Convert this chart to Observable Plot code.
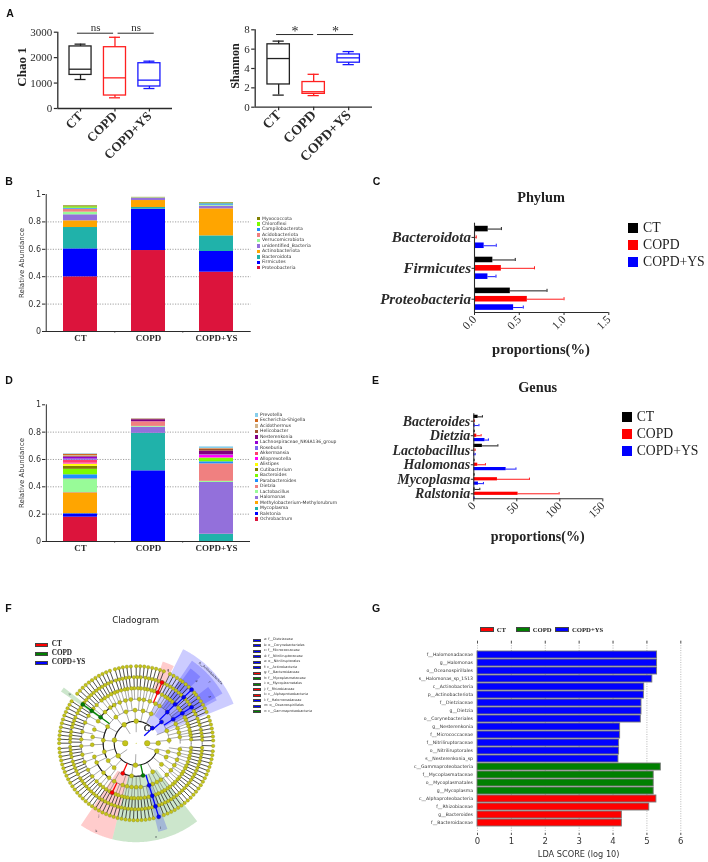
<!doctype html>
<html><head><meta charset="utf-8">
<style>
html,body{margin:0;background:#fff}
#root{position:relative;width:708px;height:862px;overflow:hidden;background:#fff;filter:blur(.3px)}
.t{position:absolute;white-space:nowrap;line-height:1;color:#222}
.s{position:absolute;box-sizing:border-box}
</style>
<script src="https://cdn.jsdelivr.net/npm/d3@7"></script>
<script src="https://cdn.jsdelivr.net/npm/@observablehq/plot@0.6"></script>
</head><body><div id="root"></div>
<script>
const groups = ["CT","COPD","COPD+YS"];
// A: five-number summaries [low, q1, median, q3, high]
const chaoCT = [1140,1320,1545,2440,2530];
const chaoCOPD = [420,510,1205,2410,2800];
const chaoYS = [785,865,1115,1780,1860];
const shanCT = [1.25,2.35,5.03,6.5,6.83];
const shanCOPD = [1.2,1.38,1.6,2.6,3.4];
const shanYS = [4.4,4.6,5.1,5.45,5.75];
const chaoSig = ["ns","ns"];
const shanSig = ["*","*"];
// B
const phyla = ["Proteobacteria","Firmicutes","Bacteroidota","Actinobacteriota","unidentified_Bacteria","Verrucomicrobiota","Acidobacteriota","Campilobacterota","Chloroflexi","Myxococcota"];
const phylaCT = [.399,.204,.156,.049,.044,.019,.022,.007,.010,.007];
const phylaCOPD = [.591,.302,.012,.051,.015,.002,.002,.001,.001,.002];
const phylaYS = [.433,.151,.114,.197,.020,.005,.002,.010,.002,.005];
// D
const genera = ["Ochrobactrum","Ralstonia","Mycoplasma","Methylobacterium-Methylorubrum","Halomonas","Lactobacillus","Dietzia","Parabacteroides","Bacteroides","Cutibacterium","Alistipes","Alloprevotella","Akkermansia","Roseburia","Lachnospiraceae_NK4A136_group","Nesterenkonia","Helicobacter","Acidothermus","Escherichia-Shigella","Prevotella"];
const generaCT = [.178,.024,.002,.152,.002,.096,.004,.03,.04,.022,.017,.006,.022,.008,.012,.004,.006,.004,.009,.004];
const generaCOPD = [0,.517,.273,.001,.045,.006,.034,0,0,0,0,0,0,0,.001,.014,.004,.001,.001,.001];
const generaYS = [0,0,.052,.001,.379,.008,.128,.015,.024,.002,.002,.018,.002,.002,.002,.026,.012,.003,.004,.012];
const phylaColors = ["#DC143C","#0000FF","#20B2AA","#FFA500","#9370DB","#98FB98","#F08080","#1E90FF","#7CFC00","#808000"];
const generaColors = [...phylaColors,"#FFFF00","#FF00FF","#FF3E6E","#7B68EE","#9400D3","#800080","#A0522D","#D2B48C","#D2691E","#87CEEB"];
// C
const phylumNames = ["Proteobacteria","Firmicutes","Bacteroidota"];
const phylumCT = [.40,.205,.153], phylumCTErr = [.81,.455,.30];
const phylumCOPD = [.59,.30,.012], phylumCOPDErr = [1.0,.67,.02];
const phylumYS = [.437,.15,.108], phylumYSErr = [.545,.24,.243];
// E
const genusNames = ["Ralstonia","Mycoplasma","Halomonas","Lactobacillus","Dietzia","Bacteroides"];
const genusCT = [1.5,.2,.2,10,.3,5], genusCTErr = [7,.4,.4,28,.6,10];
const genusCOPD = [51.5,27.5,4.6,1,3.5,.5], genusCOPDErr = [99.2,64.7,13.5,1.6,8.5,.8];
const genusYS = [.2,5.4,37.6,1,13,1.5], genusYSErr = [.4,11.2,49,1.6,17,6];
// G
const ldaNames = ["f__Halomonadaceae","g__Halomonas","o__Oceanospirillales","s__Halomonas_sp_1513","c__Actinobacteria","p__Actinobacteriota","f__Dietziaceae","g__Dietzia","o__Corynebacteriales","g__Nesterenkonia","f__Micrococcaceae","f__Nitriliruptoraceae","o__Nitriliruptorales","s__Nesterenkonia_sp","c__Gammaproteobacteria","f__Mycoplasmataceae","o__Mycoplasmatales","g__Mycoplasma","c__Alphaproteobacteria","f__Rhizobiaceae","g__Bacteroides","f__Bacteroidaceae"];
const ldaScores = [5.30,5.30,5.30,5.16,4.92,4.91,4.84,4.84,4.82,4.21,4.21,4.18,4.18,4.16,5.41,5.20,5.20,5.20,5.28,5.07,4.26,4.26];
const ldaGroups = ["COPD+YS","COPD+YS","COPD+YS","COPD+YS","COPD+YS","COPD+YS","COPD+YS","COPD+YS","COPD+YS","COPD+YS","COPD+YS","COPD+YS","COPD+YS","COPD+YS","COPD","COPD","COPD","COPD","CT","CT","CT","CT"];
// F
const cladeKey = ["a: f__Dietziaceae","b: o__Corynebacteriales","c: f__Micrococcaceae","d: f__Nitriliruptoraceae","e: o__Nitriliruptorales","f: c__Actinobacteria","g: f__Bacteroidaceae","h: f__Mycoplasmataceae","i: o__Mycoplasmatales","j: f__Rhizobiaceae","k: c__Alphaproteobacteria","l: f__Halomonadaceae","m: o__Oceanospirillales","n: c__Gammaproteobacteria"];
const cladeKeyGroups = ["COPD+YS","COPD+YS","COPD+YS","COPD+YS","COPD+YS","COPD+YS","CT","COPD","COPD","CT","CT","COPD+YS","COPD+YS","COPD"];
const ring1 = [0,180];
const ring2 = [0,90,123,172,215,268,339];
const ring3 = [5,22,63,78,92,108,128,150,175,195,212,228,262,300,320,335,345];
const ring4 = [8,14,20,26,58,64,72,80,86,97,104,112,120,126,135,150,162,172,182,198,206,222,232,240,252,258,264,270,276,292,298,304,314,322,330,338,346,352];
const ring5 = [4,8,11,14,18,21,25,28,37,40,49,52,55,58,62,71,74,78,81,85,88,92,95,99,102,106,110,113,117,121,125,129,136,141,150,158,168,176,183,192,200,209,217,224,229,233,237,241,248,251,255,258,261,265,268,272,275,279,283,291,294,298,301,305,308,312,315,319,322,326,329,333,336,340,344,347,351,355];
const ring6 = [3,6,9,12,16,19,22,26,29,36,39,42,47,50,53,56,59,62,65,70,73,76,79,82,86,89,92,96,99,102,105,108,112,115,118,121,124,127,130,133,136,139,142,147,150,153,157,160,163,166,170,173,176,179,183,186,189,192,196,199,202,205,208,212,215,218,221,224,227,230,233,236,239,242,245,248,251,254,257,260,263,266,269,272,275,278,281,284,290,293,296,299,302,305,308,311,314,317,320,323,326,329,332,335,338,341,344,347,350,353,356];
const ring7 = [2,5,8,11,14,17,20,24,27,30,33,36,39,41,47,50,53,55,58,61,64,69,72,75,78,81,84,87,90,94,97,100,103,106,110,113,116,119,122,125,128,131,134,137,140,147,150,153,156,159,162,165,168,171,174,177,180,184,187,190,193,196,199,202,205,208,211,214,217,220,223,226,229,232,235,238,241,244,247,250,253,256,259,262,265,268,271,274,277,280,283,291,294,297,300,303,306,309,312,315,318,321,324,327,330,333,336,339,342,345,348,351,354,358];
const rings = [ring1,ring2,ring3,ring4,ring5,ring6,ring7];
const biomarkerRing = [2,3,4,4,5,5,6,6,7,4,5,6,7,5,6,3,5,3,4,5,6];
const biomarkerAngle = [43,40,45,33,45,33,44,33,44,287,287,287,287,67,67,246,244,282,144,144,144];
const biomarkerGroup = ["COPD+YS","COPD+YS","COPD+YS","COPD+YS","COPD+YS","COPD+YS","COPD+YS","COPD+YS","COPD+YS","COPD+YS","COPD+YS","COPD+YS","COPD+YS","CT","CT","CT","CT","COPD","COPD","COPD","COPD"];
// clade wedges: angle range and ring range
const wedgeA0 = [236,256,284,22,30,46,28,64,142.5];
const wedgeA1 = [256,308,290,63.5,56,54,38,72,145.5];
const wedgeR0 = [3,3,4,2.1,3,4,4,5,4];
const wedgeR1 = [9,9,8.3,9.55,9.05,8.4,8.3,7.8,8.3];
const wedgeGroup = ["CT","COPD","COPD+YS","COPD+YS","COPD+YS","COPD+YS","COPD+YS","CT","COPD"];
const thickRing = [2,3,3,4,4], thickA0 = [45,246,150,118,205], thickA1 = [335,282,205,144,232];
const thinRing = [3,3,4,4,5,5,6];
const thinA0 = [0,60,0,200,0,130,0];
const thinA1 = [30,230,130,350,60,360,360];
const cladeText = ["p__Actinobacteriota","f","a","d","g","n","k","j","l","h"];
const cladeTextRing = [9.33,8.67,7.9,7.9,7.3,8.73,8.73,7.45,8,7.5];
const cladeTextAngle = [43.3,39.8,45.8,32.4,66.5,282,245.6,243,286,143.7];
const cladeTextRotate = [44,44,44,44,0,0,0,0,0,-36];

const root = document.getElementById("root");
const SERIF = "'Liberation Serif',serif", SANS = "'DejaVu Sans',sans-serif", ARIAL = "'Liberation Sans',sans-serif";
const INK = "#2b2b2b";
const groupColors = ["#222222","#FF2020","#1818FF"];
const ldaColors = ["#FF0000","#008000","#0000FF"];

function place(box, inner, options){
  const [x0,y0,x1,y1]=box,[ax0,ay0,ax1,ay1]=inner;
  const el = Plot.plot({width:x1-x0,height:y1-y0,marginLeft:ax0-x0,marginTop:ay0-y0,marginRight:x1-ax1,marginBottom:y1-ay1,
    style:{background:"transparent",overflow:"visible"},...options});
  el.style.position="absolute"; el.style.left=x0+"px"; el.style.top=y0+"px"; el.style.width=(x1-x0)+"px"; el.style.height=(y1-y0)+"px"; el.style.maxWidth="none";
  root.append(el);
}
function label(text,x,y,css={},rot=0,align=-50){
  const d=document.createElement("div"); d.className="t"; d.textContent=text;
  d.style.left=x+"px"; d.style.top=y+"px";
  d.style.transform=`translate(${align}%,-50%)`+(rot?` rotate(${rot}deg)`:"");
  Object.assign(d.style,css); root.append(d);
}
function swatch(x,y,w,h,color,border){
  const d=document.createElement("div"); d.className="s";
  Object.assign(d.style,{left:x+"px",top:(y-h/2)+"px",width:w+"px",height:h+"px",background:color});
  if(border) d.style.border=border; root.append(d);
}
[["A",10,13],["B",9,180.5],["C",376.5,180.5],["D",9,380],["E",375.5,380],["F",8.5,608],["G",376,608]]
 .forEach(([t,x,y])=>label(t,x,y,{fontFamily:ARIAL,fontWeight:"700",fontSize:"10.5px",color:"#111"}));

// ---------- A
function boxPanel({box,inner,yDomain,yTicks,xDomain,summaries,sig,sigY,sigSpans,xFont,sigDy,sigFont}){
  const rows = summaries.map((s,i)=>({i,group:groups[i],lo:s[0],q1:s[1],med:s[2],q3:s[3],hi:s[4]}));
  const w=.32, cap=.16, sigRows=sig.map((t,i)=>({t,a:sigSpans[i][0],b:sigSpans[i][1]}));
  const common={stroke:"group",strokeWidth:1.3};
  place(box,inner,{
    x:{type:"linear",domain:xDomain,axis:null},
    y:{domain:yDomain,axis:null},
    color:{domain:groups,range:groupColors},
    marks:[
      Plot.ruleX(rows,{x:"i",y1:"q3",y2:"hi",...common}),
      Plot.ruleX(rows,{x:"i",y1:"q1",y2:"lo",...common}),
      Plot.ruleY(rows,{y:"hi",x1:d=>d.i-cap,x2:d=>d.i+cap,...common}),
      Plot.ruleY(rows,{y:"lo",x1:d=>d.i-cap,x2:d=>d.i+cap,...common}),
      Plot.rect(rows,{x1:d=>d.i-w,x2:d=>d.i+w,y1:"q1",y2:"q3",fill:"none",...common}),
      Plot.ruleY(rows,{y:"med",x1:d=>d.i-w,x2:d=>d.i+w,...common}),
      Plot.ruleY(sigRows,{y:sigY,x1:"a",x2:"b",stroke:INK,strokeWidth:1}),
      Plot.text(sigRows,{x:d=>(d.a+d.b)/2,y:sigY,text:"t",dy:sigDy,fontFamily:SERIF,fontSize:sigFont,fill:INK}),
      Plot.ruleX([xDomain[0]],{stroke:INK,strokeWidth:1.3}),
      Plot.ruleY([yDomain[0]],{stroke:INK,strokeWidth:1.3}),
      Plot.axisY({ticks:yTicks,tickFormat:d=>String(d),tickSize:3.5,tickPadding:2,strokeWidth:1.2,stroke:INK,fontFamily:SERIF,fontSize:11,fill:INK,label:null}),
      Plot.axisX({ticks:[0,1,2],tickFormat:i=>groups[i],tickSize:3.5,tickPadding:2,tickRotate:-45,strokeWidth:1.2,stroke:INK,fontFamily:SERIF,fontWeight:"bold",fontSize:xFont,fill:INK,label:null})
    ]
  });
}
boxPanel({box:[20,5,200,175],inner:[57.3,31.7,172,108],yDomain:[0,3000],yTicks:[0,1000,2000,3000],xDomain:[-.66,2.67],summaries:[chaoCT,chaoCOPD,chaoYS],sig:chaoSig,sigY:2960,sigSpans:[[-.09,.96],[1.09,2.14]],xFont:13,sigDy:-6,sigFont:11});
boxPanel({box:[218,5,400,175],inner:[254.7,29.3,372,106.7],yDomain:[0,8],yTicks:[0,2,4,6,8],xDomain:[-.67,2.68],summaries:[shanCT,shanCOPD,shanYS],sig:shanSig,sigY:7.51,sigSpans:[[-.06,1],[1.11,2.14]],xFont:14,sigDy:-3,sigFont:14});
label("Chao 1",21,67,{fontFamily:SERIF,fontWeight:"700",fontSize:"13px"},-90);
label("Shannon",235,66,{fontFamily:SERIF,fontWeight:"700",fontSize:"12px"},-90);

// ---------- B, D
function stackPanel({box,inner,taxa,colors,values,legendX,legendY,tx,legendFont}){
  const rows = taxa.flatMap((taxon,t)=>groups.map((group,g)=>({taxon,group,value:values[g][t]})));
  const bandW=(inner[2]-inner[0])/3;
  place(box,inner,{
    x:{domain:groups,paddingInner:.5,paddingOuter:.25,axis:null},
    y:{domain:[0,1],axis:null},
    color:{domain:taxa,range:colors},
    marks:[
      Plot.ruleY([.2,.4,.6,.8],{stroke:"#777",strokeDasharray:"1.2,1.4",strokeWidth:.7}),
      Plot.barY(rows,{x:"group",y:"value",fill:"taxon"}),
      Plot.ruleX([groups[0],groups[1]],{y1:0,y2:-.012,dx:bandW/2,stroke:INK,strokeWidth:.8}),
      Plot.ruleX([{}],{x:()=>groups[0],y1:0,y2:1,dx:-bandW/2,stroke:INK,strokeWidth:1}),
      Plot.ruleY([0],{stroke:INK,strokeWidth:1}),
      Plot.axisY({ticks:[0,.2,.4,.6,.8,1],tickFormat:d=>String(d),tickSize:3,tickPadding:1.5,stroke:INK,fontFamily:SANS,fontSize:8,fill:"#333",label:null}),
      Plot.axisX({tickSize:0,tickPadding:3,fontFamily:SERIF,fontWeight:"bold",fontSize:9,fill:INK,label:null})
    ]
  });
  [...taxa].reverse().forEach((t,i)=>{
    const y=legendY+i*5.48;
    swatch(legendX,y,3.3,3.3,colors[taxa.length-1-i]);
    label(t,legendX+tx,y,{fontFamily:SANS,fontSize:legendFont+"px",color:"#333"},0,0);
  });
}
stackPanel({box:[20,185,255,350],inner:[45,194,250.7,331],taxa:phyla,colors:phylaColors,values:[phylaCT,phylaCOPD,phylaYS],legendX:257,legendY:218.5,tx:5,legendFont:4.6});
stackPanel({box:[20,395,255,560],inner:[45,404.3,250,541],taxa:genera,colors:generaColors,values:[generaCT,generaCOPD,generaYS],legendX:255,legendY:415,tx:5,legendFont:4.5});
label("Relative Abundance",22,263,{fontFamily:SANS,fontSize:"7px",color:"#333"},-90);
label("Relative Abundance",22,473,{fontFamily:SANS,fontSize:"7px",color:"#333"},-90);

// ---------- C, E
function hbarPanel({box,inner,names,series,errs,xDomain,xTicks,xFmt,yDomain,sub,half,capH,nameFont}){
  const rows = series.flatMap((vals,s)=>vals.map((v,g)=>({g,pos:g+(1-s)*sub,group:groups[s],v,e:errs[s][g]})));
  place(box,inner,{
    x:{domain:xDomain,axis:null},
    y:{type:"linear",domain:yDomain,axis:null},
    color:{domain:groups,range:["#000000","#FF0000","#0000FF"]},
    marks:[
      Plot.ruleY(rows,{y:"pos",x1:"v",x2:"e",stroke:"group",strokeWidth:.9}),
      Plot.ruleX(rows,{x:"e",y1:d=>d.pos-capH,y2:d=>d.pos+capH,stroke:"group",strokeWidth:.9}),
      Plot.rect(rows,{x1:0,x2:"v",y1:d=>d.pos-half,y2:d=>d.pos+half,fill:"group"}),
      Plot.ruleX([0],{stroke:INK,strokeWidth:1.1}),
      Plot.ruleY([yDomain[0]],{stroke:INK,strokeWidth:1.1}),
      Plot.axisY({ticks:names.map((_,i)=>i),tickFormat:i=>names[i],tickSize:2.5,tickPadding:1,stroke:INK,fontFamily:SERIF,fontWeight:"bold",fontStyle:"italic",fontSize:nameFont,fill:INK,label:null}),
      Plot.axisX({ticks:xTicks,tickFormat:xFmt,tickSize:3,tickPadding:2,tickRotate:-45,stroke:INK,fontFamily:SERIF,fontSize:11.5,fill:INK,label:null})
    ]
  });
}
hbarPanel({box:[365,215,620,340],inner:[474,222.7,608.3,312],names:phylumNames,series:[phylumCT,phylumCOPD,phylumYS],errs:[phylumCTErr,phylumCOPDErr,phylumYSErr],xDomain:[0,1.5],xTicks:[0,.5,1,1.5],xFmt:d3.format(".1f"),yDomain:[-.43,2.46],sub:.27,half:.09,capH:.05,nameFont:15});
hbarPanel({box:[365,405,620,525],inner:[473.3,413.3,602.3,498.3],names:genusNames,series:[genusCT,genusCOPD,genusYS],errs:[genusCTErr,genusCOPDErr,genusYSErr],xDomain:[0,150],xTicks:[0,50,100,150],xFmt:d=>String(d),yDomain:[-.345,5.51],sub:.3,half:.11,capH:.08,nameFont:14});
const titleCss={fontFamily:SERIF,fontWeight:"700",fontSize:"14.3px"};
label("Phylum",541,196.7,titleCss);
label("proportions(%)",541,349,{...titleCss,fontSize:"14.6px"});
label("Genus",537.7,386.7,titleCss);
label("proportions(%)",537.7,536.7,{...titleCss,fontSize:"14px"});
[[628,643,[228,245,262.3]],[621.7,636.7,[417.3,434.3,451]]].forEach(([sx,tx,ys])=>{
  ys.forEach((y,i)=>{
    swatch(sx,y,10,10,["#000","#FF0000","#0000FF"][i]);
    label(groups[i],tx,y,{fontFamily:SERIF,fontSize:"13.7px",color:"#222"},0,0);
  });
});

// ---------- F
const RINGPX=11, CX=135.7, CY=152.7;
const W=250, H=270;
const cosd=a=>Math.cos(a*Math.PI/180), sind=a=>Math.sin(a*Math.PI/180);
const polar=(ring,a)=>({x:ring*cosd(a),y:ring*sind(a)});
const arcPts=(ring,a0,a1)=>d3.range(0,61).map(i=>polar(ring,a0+(a1-a0)*i/60));
const wedges=wedgeA0.flatMap((a0,i)=>{
  const a1=wedgeA1[i], o=arcPts(wedgeR1[i],a0,a1), n=arcPts(wedgeR0[i],a1,a0);
  return [...o,...n].map(p=>({...p,id:i,group:wedgeGroup[i]}));
});
const thick=thickRing.flatMap((r,i)=>arcPts(r,thickA0[i],thickA1[i]).map(p=>({...p,id:i})));
const thin=thinRing.flatMap((r,i)=>arcPts(r,thinA0[i],thinA1[i]).map(p=>({...p,id:i})));
const nodes=rings.flatMap((arr,k)=>arr.map(a=>({ring:k+1,a})));
const outerSpokes=nodes.filter(d=>d.ring>=6);
const innerSpokes=nodes.filter(d=>d.ring>1&&d.ring<6);
const bio=biomarkerRing.map((ring,i)=>({ring,a:biomarkerAngle[i],group:biomarkerGroup[i]}));
const dotR=[2.8,2.4,2.1,2,1.85,1.75,1.75];
const spokeEnds={x1:d=>polar(d.ring,d.a).x,y1:d=>polar(d.ring,d.a).y,x2:d=>polar(d.ring-1,d.a).x,y2:d=>polar(d.ring-1,d.a).y};
place([0,590,250,860],[0,590,250,860],{
  x:{domain:[-CX/RINGPX,(W-CX)/RINGPX],axis:null},
  y:{domain:[-(H-CY)/RINGPX,CY/RINGPX],axis:null},
  color:{domain:groups,range:ldaColors},
  marks:[
    Plot.line(wedges,{x:"x",y:"y",z:"id",fill:"group",fillOpacity:.2,stroke:"none"}),
    Plot.line(thin,{x:"x",y:"y",z:"id",stroke:"#555",strokeWidth:.6}),
    Plot.link(innerSpokes,{...spokeEnds,stroke:"#555",strokeWidth:.5}),
    Plot.link(outerSpokes,{...spokeEnds,stroke:"#222",strokeWidth:.8}),
    Plot.line(thick,{x:"x",y:"y",z:"id",stroke:"#1a1a1a",strokeWidth:1.1}),
    Plot.link(bio,{...spokeEnds,stroke:"group",strokeWidth:1.3}),
    ...rings.map((arr,k)=>Plot.dot(arr,{x:a=>polar(k+1,a).x,y:a=>polar(k+1,a).y,r:dotR[k],fill:"#C4C41A",stroke:"#77770A",strokeWidth:.3})),
    Plot.dot([0],{x:d=>d,y:d=>d,r:.5,fill:"#C4C41A"}),
    Plot.dot(bio,{x:d=>polar(d.ring,d.a).x,y:d=>polar(d.ring,d.a).y,r:2.1,fill:"group",stroke:"#222",strokeWidth:.3}),
    Plot.text(cladeText,{x:(t,i)=>polar(cladeTextRing[i],cladeTextAngle[i]).x,y:(t,i)=>polar(cladeTextRing[i],cladeTextAngle[i]).y,text:t=>t,rotate:(t,i)=>cladeTextRotate[i],fontFamily:SANS,fontSize:3.2,fill:"#223"})
  ]
});
label("Cladogram",135.7,620.3,{fontFamily:SANS,fontSize:"8.6px",color:"#222"});
label("C",146.7,729.3,{fontFamily:SERIF,fontWeight:"700",fontSize:"8px",color:"#111"});
groups.forEach((g,i)=>{
  const y=645+i*9;
  swatch(34.7,y,13,4.5,ldaColors[i],".5px solid #444");
  label(g,51.7,y,{fontFamily:SERIF,fontWeight:"700",fontSize:"7.2px",color:"#222"},0,0);
});
cladeKey.forEach((t,i)=>{
  const y=640+i*5.5;
  swatch(253.3,y,8,3,ldaColors[groups.indexOf(cladeKeyGroups[i])],".3px solid #444");
  label(t,264,y,{fontFamily:SANS,fontSize:"3.4px",color:"#333"},0,0);
});

// ---------- G
const ldaRows=ldaNames.map((name,i)=>({name,score:ldaScores[i],group:ldaGroups[i]}));
const ldaTicks=[0,1,2,3,4,5,6];
place([385,628,700,862],[477,644.4,680.3,833],{
  x:{domain:[0,6],axis:null},
  y:{domain:ldaNames,paddingInner:.14,paddingOuter:.07,axis:null},
  color:{domain:groups,range:ldaColors},
  marks:[
    Plot.ruleX(ldaTicks,{stroke:"#888",strokeDasharray:"1,1.4",strokeWidth:.6,insetTop:-4,insetBottom:-1}),
    Plot.barX(ldaRows,{y:"name",x:"score",fill:"group",stroke:"#777",strokeWidth:.9}),
    Plot.axisY({tickSize:0,tickPadding:4.5,fontFamily:SANS,fontSize:4.6,fill:"#333",label:null}),
    Plot.axisX({anchor:"top",ticks:ldaTicks,tickFormat:()=>"",tickSize:2.5,dy:-2,stroke:"#555",label:null}),
    Plot.axisX({ticks:ldaTicks,tickFormat:d=>String(d),tickSize:2,tickPadding:2.5,stroke:"#555",fontFamily:SANS,fontSize:8.5,fill:"#333",label:null})
  ]
});
label("LDA SCORE (log 10)",578.7,854,{fontFamily:SANS,fontSize:"8.2px",color:"#333"});
[[479.7,496.7],[516.3,532.7],[555,572]].forEach(([sx,tx],i)=>{
  swatch(sx,629.7,14,5.5,ldaColors[i],".5px solid #444");
  label(groups[i],tx,629.7,{fontFamily:SERIF,fontWeight:"700",fontSize:"6.7px",color:"#222"},0,0);
});
</script></body></html>
